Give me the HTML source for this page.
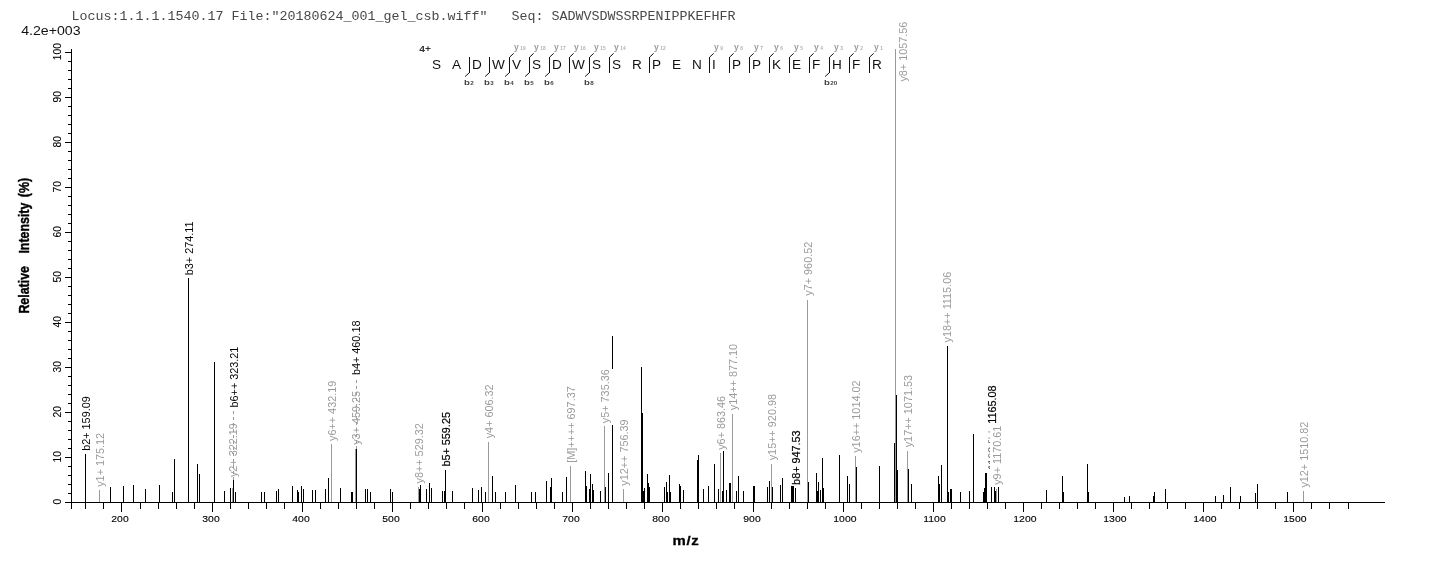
<!DOCTYPE html>
<html><head><meta charset="utf-8"><title>Spectrum</title>
<style>html,body{margin:0;padding:0;background:#fff;}svg{display:block;will-change:transform;}text{font-family:"Liberation Sans",sans-serif;}.mono{font-family:"Liberation Mono",monospace;}</style></head><body>
<svg width="1436" height="562" viewBox="0 0 1436 562">
<rect x="0" y="0" width="1436" height="562" fill="#fff"/>
<text class="mono" x="71.5" y="19.7" font-size="13.33" fill="#484848" xml:space="preserve" style="white-space:pre" textLength="664" lengthAdjust="spacing">Locus:1.1.1.1540.17 File:&quot;20180624_001_gel_csb.wiff&quot;   Seq: SADWVSDWSSRPENIPPKEFHFR</text>
<text transform="translate(21.2,34.8) scale(1.18,1)" font-size="12" fill="#111">4.2e+003</text>
<g shape-rendering="crispEdges">
<rect x="85" y="454" width="1" height="48" fill="#000"/>
<rect x="99" y="490" width="1" height="12" fill="#9a9a9a"/>
<rect x="110" y="487" width="1" height="15" fill="#000"/>
<rect x="123" y="486" width="1" height="16" fill="#000"/>
<rect x="133" y="485" width="1" height="17" fill="#000"/>
<rect x="145" y="489" width="1" height="13" fill="#000"/>
<rect x="159" y="485" width="1" height="17" fill="#000"/>
<rect x="172" y="492" width="1" height="10" fill="#000"/>
<rect x="174" y="459" width="1" height="43" fill="#000"/>
<rect x="188" y="278" width="1" height="224" fill="#000"/>
<rect x="197" y="464" width="1" height="38" fill="#000"/>
<rect x="199" y="474" width="1" height="28" fill="#000"/>
<rect x="214" y="362" width="1" height="140" fill="#000"/>
<rect x="224" y="491" width="1" height="11" fill="#000"/>
<rect x="230" y="488" width="1" height="14" fill="#000"/>
<rect x="232" y="488" width="1" height="14" fill="#9a9a9a"/>
<rect x="233" y="480" width="1" height="22" fill="#000"/>
<rect x="235" y="492" width="1" height="10" fill="#000"/>
<rect x="261" y="492" width="1" height="10" fill="#000"/>
<rect x="264" y="492" width="1" height="10" fill="#000"/>
<rect x="276" y="491" width="1" height="11" fill="#000"/>
<rect x="278" y="489" width="1" height="13" fill="#000"/>
<rect x="292" y="486" width="1" height="16" fill="#000"/>
<rect x="297" y="490" width="1" height="12" fill="#000"/>
<rect x="298" y="492" width="1" height="10" fill="#000"/>
<rect x="301" y="486" width="1" height="16" fill="#000"/>
<rect x="303" y="489" width="1" height="13" fill="#000"/>
<rect x="312" y="490" width="1" height="12" fill="#000"/>
<rect x="315" y="490" width="1" height="12" fill="#000"/>
<rect x="325" y="489" width="1" height="13" fill="#000"/>
<rect x="328" y="478" width="1" height="24" fill="#000"/>
<rect x="331" y="444" width="1" height="58" fill="#9a9a9a"/>
<rect x="340" y="488" width="1" height="14" fill="#000"/>
<rect x="351" y="492" width="1" height="10" fill="#000"/>
<rect x="352" y="492" width="1" height="10" fill="#000"/>
<rect x="355" y="449" width="1" height="53" fill="#9a9a9a"/>
<rect x="356" y="449" width="1" height="53" fill="#000"/>
<rect x="365" y="489" width="1" height="13" fill="#000"/>
<rect x="367" y="489" width="1" height="13" fill="#000"/>
<rect x="370" y="492" width="1" height="10" fill="#000"/>
<rect x="390" y="489" width="1" height="13" fill="#000"/>
<rect x="392" y="492" width="1" height="10" fill="#000"/>
<rect x="418" y="487" width="1" height="15" fill="#9a9a9a"/>
<rect x="419" y="489" width="1" height="13" fill="#000"/>
<rect x="420" y="485" width="1" height="17" fill="#000"/>
<rect x="426" y="489" width="1" height="13" fill="#000"/>
<rect x="429" y="483" width="1" height="19" fill="#000"/>
<rect x="431" y="488" width="1" height="14" fill="#000"/>
<rect x="442" y="491" width="1" height="11" fill="#000"/>
<rect x="444" y="491" width="1" height="11" fill="#000"/>
<rect x="445" y="470" width="1" height="32" fill="#000"/>
<rect x="452" y="491" width="1" height="11" fill="#000"/>
<rect x="472" y="488" width="1" height="14" fill="#000"/>
<rect x="478" y="490" width="1" height="12" fill="#000"/>
<rect x="481" y="487" width="1" height="15" fill="#000"/>
<rect x="485" y="492" width="1" height="10" fill="#000"/>
<rect x="488" y="442" width="1" height="60" fill="#9a9a9a"/>
<rect x="492" y="476" width="1" height="26" fill="#000"/>
<rect x="495" y="492" width="1" height="10" fill="#000"/>
<rect x="505" y="492" width="1" height="10" fill="#000"/>
<rect x="515" y="485" width="1" height="17" fill="#000"/>
<rect x="531" y="492" width="1" height="10" fill="#000"/>
<rect x="535" y="492" width="1" height="10" fill="#000"/>
<rect x="546" y="481" width="1" height="21" fill="#000"/>
<rect x="550" y="487" width="1" height="15" fill="#000"/>
<rect x="551" y="478" width="1" height="24" fill="#000"/>
<rect x="562" y="492" width="1" height="10" fill="#000"/>
<rect x="566" y="477" width="1" height="25" fill="#000"/>
<rect x="570" y="466" width="1" height="36" fill="#9a9a9a"/>
<rect x="585" y="471" width="1" height="31" fill="#000"/>
<rect x="586" y="486" width="1" height="16" fill="#000"/>
<rect x="589" y="489" width="1" height="13" fill="#000"/>
<rect x="590" y="474" width="1" height="28" fill="#000"/>
<rect x="592" y="484" width="1" height="18" fill="#000"/>
<rect x="593" y="490" width="1" height="12" fill="#000"/>
<rect x="600" y="491" width="1" height="11" fill="#000"/>
<rect x="604" y="426" width="1" height="76" fill="#9a9a9a"/>
<rect x="605" y="487" width="1" height="15" fill="#000"/>
<rect x="608" y="473" width="1" height="29" fill="#000"/>
<rect x="623" y="489" width="1" height="13" fill="#9a9a9a"/>
<rect x="641" y="367" width="1" height="135" fill="#000"/>
<rect x="642" y="413" width="1" height="89" fill="#000"/>
<rect x="643" y="491" width="1" height="11" fill="#000"/>
<rect x="644" y="488" width="1" height="14" fill="#000"/>
<rect x="647" y="474" width="1" height="28" fill="#000"/>
<rect x="648" y="483" width="1" height="19" fill="#000"/>
<rect x="649" y="487" width="1" height="15" fill="#000"/>
<rect x="664" y="487" width="1" height="15" fill="#000"/>
<rect x="666" y="482" width="1" height="20" fill="#000"/>
<rect x="667" y="492" width="1" height="10" fill="#000"/>
<rect x="669" y="475" width="1" height="27" fill="#000"/>
<rect x="670" y="492" width="1" height="10" fill="#000"/>
<rect x="679" y="484" width="1" height="18" fill="#000"/>
<rect x="680" y="486" width="1" height="16" fill="#000"/>
<rect x="683" y="490" width="1" height="12" fill="#000"/>
<rect x="697" y="460" width="1" height="42" fill="#000"/>
<rect x="698" y="455" width="1" height="47" fill="#000"/>
<rect x="703" y="489" width="1" height="13" fill="#000"/>
<rect x="708" y="486" width="1" height="16" fill="#000"/>
<rect x="714" y="464" width="1" height="38" fill="#000"/>
<rect x="718" y="489" width="1" height="13" fill="#000"/>
<rect x="720" y="453" width="1" height="49" fill="#9a9a9a"/>
<rect x="722" y="491" width="1" height="11" fill="#000"/>
<rect x="723" y="451" width="1" height="51" fill="#000"/>
<rect x="726" y="490" width="1" height="12" fill="#000"/>
<rect x="729" y="483" width="1" height="19" fill="#000"/>
<rect x="730" y="483" width="1" height="19" fill="#000"/>
<rect x="732" y="414" width="1" height="88" fill="#9a9a9a"/>
<rect x="736" y="491" width="1" height="11" fill="#000"/>
<rect x="738" y="476" width="1" height="26" fill="#000"/>
<rect x="743" y="491" width="1" height="11" fill="#000"/>
<rect x="753" y="486" width="1" height="16" fill="#000"/>
<rect x="754" y="486" width="1" height="16" fill="#000"/>
<rect x="767" y="487" width="1" height="15" fill="#000"/>
<rect x="769" y="481" width="1" height="21" fill="#000"/>
<rect x="771" y="464" width="1" height="38" fill="#9a9a9a"/>
<rect x="772" y="487" width="1" height="15" fill="#000"/>
<rect x="780" y="485" width="1" height="17" fill="#000"/>
<rect x="782" y="478" width="1" height="24" fill="#000"/>
<rect x="791" y="486" width="1" height="16" fill="#000"/>
<rect x="792" y="486" width="1" height="16" fill="#000"/>
<rect x="793" y="486" width="1" height="16" fill="#000"/>
<rect x="795" y="488" width="1" height="14" fill="#000"/>
<rect x="807" y="300" width="1" height="202" fill="#9a9a9a"/>
<rect x="808" y="482" width="1" height="20" fill="#000"/>
<rect x="816" y="473" width="1" height="29" fill="#000"/>
<rect x="817" y="491" width="1" height="11" fill="#000"/>
<rect x="818" y="482" width="1" height="20" fill="#000"/>
<rect x="820" y="490" width="1" height="12" fill="#000"/>
<rect x="822" y="458" width="1" height="44" fill="#000"/>
<rect x="823" y="488" width="1" height="14" fill="#000"/>
<rect x="839" y="455" width="1" height="47" fill="#000"/>
<rect x="847" y="476" width="1" height="26" fill="#000"/>
<rect x="849" y="484" width="1" height="18" fill="#000"/>
<rect x="855" y="456" width="1" height="46" fill="#9a9a9a"/>
<rect x="856" y="467" width="1" height="35" fill="#000"/>
<rect x="879" y="466" width="1" height="36" fill="#000"/>
<rect x="894" y="443" width="1" height="59" fill="#000"/>
<rect x="895" y="49" width="1" height="453" fill="#9a9a9a"/>
<rect x="896" y="395" width="1" height="107" fill="#000"/>
<rect x="897" y="470" width="1" height="32" fill="#000"/>
<rect x="907" y="451" width="1" height="51" fill="#9a9a9a"/>
<rect x="908" y="469" width="1" height="33" fill="#000"/>
<rect x="911" y="484" width="1" height="18" fill="#000"/>
<rect x="938" y="476" width="1" height="26" fill="#000"/>
<rect x="939" y="484" width="1" height="18" fill="#000"/>
<rect x="941" y="465" width="1" height="37" fill="#000"/>
<rect x="947" y="346" width="1" height="156" fill="#000"/>
<rect x="948" y="492" width="1" height="10" fill="#000"/>
<rect x="950" y="489" width="1" height="13" fill="#000"/>
<rect x="951" y="489" width="1" height="13" fill="#000"/>
<rect x="960" y="492" width="1" height="10" fill="#000"/>
<rect x="969" y="491" width="1" height="11" fill="#000"/>
<rect x="973" y="434" width="1" height="68" fill="#000"/>
<rect x="983" y="492" width="1" height="10" fill="#000"/>
<rect x="984" y="488" width="1" height="14" fill="#000"/>
<rect x="985" y="473" width="1" height="29" fill="#000"/>
<rect x="986" y="473" width="1" height="29" fill="#000"/>
<rect x="991" y="487" width="1" height="15" fill="#000"/>
<rect x="994" y="487" width="1" height="15" fill="#000"/>
<rect x="995" y="491" width="1" height="11" fill="#000"/>
<rect x="996" y="489" width="1" height="13" fill="#9a9a9a"/>
<rect x="998" y="487" width="1" height="15" fill="#000"/>
<rect x="1046" y="490" width="1" height="12" fill="#000"/>
<rect x="1062" y="476" width="1" height="26" fill="#000"/>
<rect x="1063" y="492" width="1" height="10" fill="#000"/>
<rect x="1087" y="464" width="1" height="38" fill="#000"/>
<rect x="1088" y="492" width="1" height="10" fill="#000"/>
<rect x="1124" y="497" width="1" height="5" fill="#000"/>
<rect x="1129" y="496" width="1" height="6" fill="#000"/>
<rect x="1153" y="496" width="1" height="6" fill="#000"/>
<rect x="1154" y="492" width="1" height="10" fill="#000"/>
<rect x="1165" y="489" width="1" height="13" fill="#000"/>
<rect x="1215" y="496" width="1" height="6" fill="#000"/>
<rect x="1223" y="495" width="1" height="7" fill="#000"/>
<rect x="1230" y="487" width="1" height="15" fill="#000"/>
<rect x="1240" y="496" width="1" height="6" fill="#000"/>
<rect x="1255" y="493" width="1" height="9" fill="#000"/>
<rect x="1257" y="484" width="1" height="18" fill="#000"/>
<rect x="1287" y="492" width="1" height="10" fill="#000"/>
<rect x="1303" y="491" width="1" height="11" fill="#9a9a9a"/>
<rect x="612" y="336" width="1" height="33" fill="#000"/>
<rect x="612" y="425" width="1" height="77" fill="#000"/>
<rect x="71" y="49" width="1" height="460" fill="#000"/>
<rect x="65" y="502" width="1320" height="1" fill="#000"/>
<rect x="65" y="502" width="6" height="1" fill="#000"/>
<rect x="68" y="493" width="3" height="1" fill="#000"/>
<rect x="68" y="484" width="3" height="1" fill="#000"/>
<rect x="68" y="475" width="3" height="1" fill="#000"/>
<rect x="68" y="466" width="3" height="1" fill="#000"/>
<rect x="65" y="457" width="6" height="1" fill="#000"/>
<rect x="68" y="448" width="3" height="1" fill="#000"/>
<rect x="68" y="439" width="3" height="1" fill="#000"/>
<rect x="68" y="430" width="3" height="1" fill="#000"/>
<rect x="68" y="421" width="3" height="1" fill="#000"/>
<rect x="65" y="412" width="6" height="1" fill="#000"/>
<rect x="68" y="403" width="3" height="1" fill="#000"/>
<rect x="68" y="394" width="3" height="1" fill="#000"/>
<rect x="68" y="385" width="3" height="1" fill="#000"/>
<rect x="68" y="376" width="3" height="1" fill="#000"/>
<rect x="65" y="367" width="6" height="1" fill="#000"/>
<rect x="68" y="358" width="3" height="1" fill="#000"/>
<rect x="68" y="349" width="3" height="1" fill="#000"/>
<rect x="68" y="340" width="3" height="1" fill="#000"/>
<rect x="68" y="331" width="3" height="1" fill="#000"/>
<rect x="65" y="322" width="6" height="1" fill="#000"/>
<rect x="68" y="313" width="3" height="1" fill="#000"/>
<rect x="68" y="304" width="3" height="1" fill="#000"/>
<rect x="68" y="295" width="3" height="1" fill="#000"/>
<rect x="68" y="286" width="3" height="1" fill="#000"/>
<rect x="65" y="277" width="6" height="1" fill="#000"/>
<rect x="68" y="268" width="3" height="1" fill="#000"/>
<rect x="68" y="259" width="3" height="1" fill="#000"/>
<rect x="68" y="250" width="3" height="1" fill="#000"/>
<rect x="68" y="241" width="3" height="1" fill="#000"/>
<rect x="65" y="232" width="6" height="1" fill="#000"/>
<rect x="68" y="223" width="3" height="1" fill="#000"/>
<rect x="68" y="214" width="3" height="1" fill="#000"/>
<rect x="68" y="205" width="3" height="1" fill="#000"/>
<rect x="68" y="196" width="3" height="1" fill="#000"/>
<rect x="65" y="187" width="6" height="1" fill="#000"/>
<rect x="68" y="178" width="3" height="1" fill="#000"/>
<rect x="68" y="169" width="3" height="1" fill="#000"/>
<rect x="68" y="160" width="3" height="1" fill="#000"/>
<rect x="68" y="151" width="3" height="1" fill="#000"/>
<rect x="65" y="142" width="6" height="1" fill="#000"/>
<rect x="68" y="133" width="3" height="1" fill="#000"/>
<rect x="68" y="124" width="3" height="1" fill="#000"/>
<rect x="68" y="115" width="3" height="1" fill="#000"/>
<rect x="68" y="106" width="3" height="1" fill="#000"/>
<rect x="65" y="97" width="6" height="1" fill="#000"/>
<rect x="68" y="88" width="3" height="1" fill="#000"/>
<rect x="68" y="79" width="3" height="1" fill="#000"/>
<rect x="68" y="70" width="3" height="1" fill="#000"/>
<rect x="68" y="61" width="3" height="1" fill="#000"/>
<rect x="65" y="52" width="6" height="1" fill="#000"/>
<rect x="85" y="502" width="1" height="7" fill="#000"/>
<rect x="103" y="502" width="1" height="7" fill="#000"/>
<rect x="121" y="502" width="1" height="10" fill="#000"/>
<rect x="140" y="502" width="1" height="7" fill="#000"/>
<rect x="158" y="502" width="1" height="7" fill="#000"/>
<rect x="176" y="502" width="1" height="7" fill="#000"/>
<rect x="194" y="502" width="1" height="7" fill="#000"/>
<rect x="212" y="502" width="1" height="10" fill="#000"/>
<rect x="230" y="502" width="1" height="7" fill="#000"/>
<rect x="248" y="502" width="1" height="7" fill="#000"/>
<rect x="266" y="502" width="1" height="7" fill="#000"/>
<rect x="284" y="502" width="1" height="7" fill="#000"/>
<rect x="302" y="502" width="1" height="10" fill="#000"/>
<rect x="320" y="502" width="1" height="7" fill="#000"/>
<rect x="338" y="502" width="1" height="7" fill="#000"/>
<rect x="356" y="502" width="1" height="7" fill="#000"/>
<rect x="374" y="502" width="1" height="7" fill="#000"/>
<rect x="392" y="502" width="1" height="10" fill="#000"/>
<rect x="410" y="502" width="1" height="7" fill="#000"/>
<rect x="428" y="502" width="1" height="7" fill="#000"/>
<rect x="446" y="502" width="1" height="7" fill="#000"/>
<rect x="464" y="502" width="1" height="7" fill="#000"/>
<rect x="482" y="502" width="1" height="10" fill="#000"/>
<rect x="500" y="502" width="1" height="7" fill="#000"/>
<rect x="518" y="502" width="1" height="7" fill="#000"/>
<rect x="536" y="502" width="1" height="7" fill="#000"/>
<rect x="554" y="502" width="1" height="7" fill="#000"/>
<rect x="572" y="502" width="1" height="10" fill="#000"/>
<rect x="590" y="502" width="1" height="7" fill="#000"/>
<rect x="608" y="502" width="1" height="7" fill="#000"/>
<rect x="626" y="502" width="1" height="7" fill="#000"/>
<rect x="644" y="502" width="1" height="7" fill="#000"/>
<rect x="662" y="502" width="1" height="10" fill="#000"/>
<rect x="680" y="502" width="1" height="7" fill="#000"/>
<rect x="698" y="502" width="1" height="7" fill="#000"/>
<rect x="716" y="502" width="1" height="7" fill="#000"/>
<rect x="734" y="502" width="1" height="7" fill="#000"/>
<rect x="753" y="502" width="1" height="10" fill="#000"/>
<rect x="771" y="502" width="1" height="7" fill="#000"/>
<rect x="789" y="502" width="1" height="7" fill="#000"/>
<rect x="807" y="502" width="1" height="7" fill="#000"/>
<rect x="825" y="502" width="1" height="7" fill="#000"/>
<rect x="843" y="502" width="1" height="10" fill="#000"/>
<rect x="861" y="502" width="1" height="7" fill="#000"/>
<rect x="879" y="502" width="1" height="7" fill="#000"/>
<rect x="897" y="502" width="1" height="7" fill="#000"/>
<rect x="915" y="502" width="1" height="7" fill="#000"/>
<rect x="933" y="502" width="1" height="10" fill="#000"/>
<rect x="951" y="502" width="1" height="7" fill="#000"/>
<rect x="969" y="502" width="1" height="7" fill="#000"/>
<rect x="987" y="502" width="1" height="7" fill="#000"/>
<rect x="1005" y="502" width="1" height="7" fill="#000"/>
<rect x="1023" y="502" width="1" height="10" fill="#000"/>
<rect x="1041" y="502" width="1" height="7" fill="#000"/>
<rect x="1059" y="502" width="1" height="7" fill="#000"/>
<rect x="1077" y="502" width="1" height="7" fill="#000"/>
<rect x="1095" y="502" width="1" height="7" fill="#000"/>
<rect x="1113" y="502" width="1" height="10" fill="#000"/>
<rect x="1131" y="502" width="1" height="7" fill="#000"/>
<rect x="1149" y="502" width="1" height="7" fill="#000"/>
<rect x="1167" y="502" width="1" height="7" fill="#000"/>
<rect x="1185" y="502" width="1" height="7" fill="#000"/>
<rect x="1203" y="502" width="1" height="10" fill="#000"/>
<rect x="1221" y="502" width="1" height="7" fill="#000"/>
<rect x="1239" y="502" width="1" height="7" fill="#000"/>
<rect x="1257" y="502" width="1" height="7" fill="#000"/>
<rect x="1275" y="502" width="1" height="7" fill="#000"/>
<rect x="1293" y="502" width="1" height="10" fill="#000"/>
<rect x="1311" y="502" width="1" height="7" fill="#000"/>
<rect x="1329" y="502" width="1" height="7" fill="#000"/>
<rect x="1348" y="502" width="1" height="7" fill="#000"/>
</g>
<text transform="translate(111.3,521.8) scale(1.07,1)" font-size="9.75" fill="#000" stroke="#000" stroke-width="0.12">200</text>
<text transform="translate(202.3,521.8) scale(1.07,1)" font-size="9.75" fill="#000" stroke="#000" stroke-width="0.12">300</text>
<text transform="translate(292.3,521.8) scale(1.07,1)" font-size="9.75" fill="#000" stroke="#000" stroke-width="0.12">400</text>
<text transform="translate(382.3,521.8) scale(1.07,1)" font-size="9.75" fill="#000" stroke="#000" stroke-width="0.12">500</text>
<text transform="translate(472.3,521.8) scale(1.07,1)" font-size="9.75" fill="#000" stroke="#000" stroke-width="0.12">600</text>
<text transform="translate(562.3,521.8) scale(1.07,1)" font-size="9.75" fill="#000" stroke="#000" stroke-width="0.12">700</text>
<text transform="translate(652.3,521.8) scale(1.07,1)" font-size="9.75" fill="#000" stroke="#000" stroke-width="0.12">800</text>
<text transform="translate(743.3,521.8) scale(1.07,1)" font-size="9.75" fill="#000" stroke="#000" stroke-width="0.12">900</text>
<text transform="translate(833.3,521.8) scale(1.07,1)" font-size="9.75" fill="#000" stroke="#000" stroke-width="0.12">1000</text>
<text transform="translate(923.3,521.8) scale(1.07,1)" font-size="9.75" fill="#000" stroke="#000" stroke-width="0.12">1100</text>
<text transform="translate(1013.3,521.8) scale(1.07,1)" font-size="9.75" fill="#000" stroke="#000" stroke-width="0.12">1200</text>
<text transform="translate(1103.3,521.8) scale(1.07,1)" font-size="9.75" fill="#000" stroke="#000" stroke-width="0.12">1300</text>
<text transform="translate(1193.3,521.8) scale(1.07,1)" font-size="9.75" fill="#000" stroke="#000" stroke-width="0.12">1400</text>
<text transform="translate(1283.3,521.8) scale(1.07,1)" font-size="9.75" fill="#000" stroke="#000" stroke-width="0.12">1500</text>
<text transform="translate(61.2,501.7) scale(1.05,1) rotate(-90)" font-size="10.3" text-anchor="middle" fill="#000" stroke="#000" stroke-width="0.1">0</text>
<text transform="translate(61.2,456.7) scale(1.05,1) rotate(-90)" font-size="10.3" text-anchor="middle" fill="#000" stroke="#000" stroke-width="0.1">10</text>
<text transform="translate(61.2,411.7) scale(1.05,1) rotate(-90)" font-size="10.3" text-anchor="middle" fill="#000" stroke="#000" stroke-width="0.1">20</text>
<text transform="translate(61.2,366.7) scale(1.05,1) rotate(-90)" font-size="10.3" text-anchor="middle" fill="#000" stroke="#000" stroke-width="0.1">30</text>
<text transform="translate(61.2,321.7) scale(1.05,1) rotate(-90)" font-size="10.3" text-anchor="middle" fill="#000" stroke="#000" stroke-width="0.1">40</text>
<text transform="translate(61.2,276.7) scale(1.05,1) rotate(-90)" font-size="10.3" text-anchor="middle" fill="#000" stroke="#000" stroke-width="0.1">50</text>
<text transform="translate(61.2,231.7) scale(1.05,1) rotate(-90)" font-size="10.3" text-anchor="middle" fill="#000" stroke="#000" stroke-width="0.1">60</text>
<text transform="translate(61.2,186.7) scale(1.05,1) rotate(-90)" font-size="10.3" text-anchor="middle" fill="#000" stroke="#000" stroke-width="0.1">70</text>
<text transform="translate(61.2,141.7) scale(1.05,1) rotate(-90)" font-size="10.3" text-anchor="middle" fill="#000" stroke="#000" stroke-width="0.1">80</text>
<text transform="translate(61.2,96.7) scale(1.05,1) rotate(-90)" font-size="10.3" text-anchor="middle" fill="#000" stroke="#000" stroke-width="0.1">90</text>
<text transform="translate(61.2,51.7) scale(1.05,1) rotate(-90)" font-size="10.3" text-anchor="middle" fill="#000" stroke="#000" stroke-width="0.1">100</text>
<text transform="translate(29.2,313.6) scale(1.15,1) rotate(-90)" font-size="12.4" font-weight="bold" fill="#000" stroke="#000" stroke-width="0.35">Relative</text>
<text transform="translate(29.2,253.6) scale(1.15,1) rotate(-90)" font-size="12.4" font-weight="bold" fill="#000" stroke="#000" stroke-width="0.35">Intensity</text>
<text transform="translate(29.2,197.2) scale(1.15,1) rotate(-90)" font-size="12.4" font-weight="bold" fill="#000" stroke="#000" stroke-width="0.35">(%)</text>
<text transform="translate(672.5,544.7) scale(1.12,1)" font-size="13.33" font-weight="bold" fill="#000" stroke="#000" stroke-width="0.3" letter-spacing="0.6">m/z</text>
<text transform="translate(89.7,450.8) scale(1.03,1) rotate(-90)" font-size="10.85" fill="#000">b2+ 159.09</text>
<text transform="translate(103.8,486.8) scale(1.03,1) rotate(-90)" font-size="10.85" fill="#9a9a9a">y1+ 175.12</text>
<text transform="translate(192.6,275.2) scale(1.03,1) rotate(-90)" font-size="10.85" fill="#000">b3+ 274.11</text>
<text transform="translate(236.5,477.1) scale(1.03,1) rotate(-90)" font-size="10.85" fill="#9a9a9a">y2+ 322.19</text>
<text transform="translate(237.7,407.5) scale(1.03,1) rotate(-90)" font-size="10.85" fill="#000">b6++ 323.21</text>
<text transform="translate(336.0,441.0) scale(1.03,1) rotate(-90)" font-size="10.85" fill="#9a9a9a">y6++ 432.19</text>
<text transform="translate(359.8,444.8) scale(1.03,1) rotate(-90)" font-size="10.85" fill="#9a9a9a">y3+ 459.25</text>
<text transform="translate(360.3,375.1) scale(1.03,1) rotate(-90)" font-size="10.85" fill="#000">b4+ 460.18</text>
<text transform="translate(422.9,483.5) scale(1.03,1) rotate(-90)" font-size="10.85" fill="#9a9a9a">y8++ 529.32</text>
<text transform="translate(449.7,466.6) scale(1.03,1) rotate(-90)" font-size="10.85" fill="#000" stroke="#000" stroke-width="0.2">b5+ 559.25</text>
<text transform="translate(492.7,438.3) scale(1.03,1) rotate(-90)" font-size="10.85" fill="#9a9a9a">y4+ 606.32</text>
<text transform="translate(574.7,462.8) scale(1.03,1) rotate(-90)" font-size="10.85" fill="#9a9a9a">[M]++++ 697.37</text>
<text transform="translate(608.8,423.2) scale(1.03,1) rotate(-90)" font-size="10.85" fill="#9a9a9a">y5+ 735.36</text>
<text transform="translate(627.7,485.7) scale(1.03,1) rotate(-90)" font-size="10.85" fill="#9a9a9a">y12++ 756.39</text>
<text transform="translate(724.7,449.8) scale(1.03,1) rotate(-90)" font-size="10.85" fill="#9a9a9a">y6+ 863.46</text>
<text transform="translate(736.8,410.2) scale(1.03,1) rotate(-90)" font-size="10.85" fill="#9a9a9a">y14++ 877.10</text>
<text transform="translate(775.7,460.3) scale(1.03,1) rotate(-90)" font-size="10.85" fill="#9a9a9a">y15++ 920.98</text>
<text transform="translate(799.7,484.9) scale(1.03,1) rotate(-90)" font-size="10.85" fill="#000" stroke="#000" stroke-width="0.2">b8+ 947.53</text>
<text transform="translate(811.7,295.7) scale(1.03,1) rotate(-90)" font-size="10.85" fill="#9a9a9a">y7+ 960.52</text>
<text transform="translate(859.7,452.8) scale(1.03,1) rotate(-90)" font-size="10.85" fill="#9a9a9a">y16++ 1014.02</text>
<text transform="translate(906.8,81.6) scale(1.03,1) rotate(-90)" font-size="10.85" fill="#9a9a9a">y8+ 1057.56</text>
<text transform="translate(911.7,447.3) scale(1.03,1) rotate(-90)" font-size="10.85" fill="#9a9a9a">y17++ 1071.53</text>
<text transform="translate(951.2,342.5) scale(1.03,1) rotate(-90)" font-size="10.85" fill="#9a9a9a">y18++ 1115.06</text>
<text transform="translate(996.2,423.8) scale(1.03,1) rotate(-90)" font-size="10.85" fill="#000" stroke="#000" stroke-width="0.2">1165.08</text>
<text transform="translate(1000.5,484.8) scale(1.03,1) rotate(-90)" font-size="10.85" fill="#9a9a9a">y9+ 1170.61</text>
<text transform="translate(1307.7,487.6) scale(1.03,1) rotate(-90)" font-size="10.85" fill="#9a9a9a">y12+ 1510.82</text>
<g shape-rendering="crispEdges">
<rect x="233" y="411" width="1" height="3" fill="#9a9a9a"/>
<rect x="233" y="417" width="1" height="3" fill="#9a9a9a"/>
<rect x="233" y="423" width="1" height="3" fill="#9a9a9a"/>
<rect x="233" y="429" width="1" height="3" fill="#9a9a9a"/>
<rect x="233" y="435" width="1" height="3" fill="#9a9a9a"/>
<rect x="233" y="441" width="1" height="3" fill="#9a9a9a"/>
<rect x="233" y="447" width="1" height="3" fill="#9a9a9a"/>
<rect x="233" y="453" width="1" height="3" fill="#9a9a9a"/>
<rect x="233" y="459" width="1" height="3" fill="#9a9a9a"/>
<rect x="233" y="465" width="1" height="3" fill="#9a9a9a"/>
<rect x="233" y="471" width="1" height="3" fill="#9a9a9a"/>
<rect x="233" y="477" width="1" height="3" fill="#9a9a9a"/>
<rect x="356" y="380" width="1" height="3" fill="#9a9a9a"/>
<rect x="356" y="386" width="1" height="3" fill="#9a9a9a"/>
<rect x="356" y="392" width="1" height="3" fill="#9a9a9a"/>
<rect x="356" y="398" width="1" height="3" fill="#9a9a9a"/>
<rect x="356" y="404" width="1" height="3" fill="#9a9a9a"/>
<rect x="356" y="410" width="1" height="3" fill="#9a9a9a"/>
<rect x="356" y="416" width="1" height="3" fill="#9a9a9a"/>
<rect x="356" y="422" width="1" height="3" fill="#9a9a9a"/>
<rect x="356" y="428" width="1" height="3" fill="#9a9a9a"/>
<rect x="356" y="434" width="1" height="3" fill="#9a9a9a"/>
<rect x="356" y="440" width="1" height="3" fill="#9a9a9a"/>
<rect x="356" y="446" width="1" height="3" fill="#9a9a9a"/>
</g>
<clipPath id="sl"><rect x="988.4" y="440" width="1.5" height="30"/></clipPath>
<g clip-path="url(#sl)"><text transform="translate(996.2,470) scale(1.03,1) rotate(-90)" font-size="10.85" fill="#333">1163.58</text></g>
<rect x="988.6" y="437.5" width="1" height="1.2" fill="#666"/><rect x="988.6" y="431.3" width="1" height="1.2" fill="#666"/>
<text transform="translate(431.90,68.5) scale(1.02,1)" font-size="13.33" fill="#111">S</text>
<text transform="translate(451.90,68.5) scale(1.02,1)" font-size="13.33" fill="#111">A</text>
<text transform="translate(471.90,68.5) scale(1.02,1)" font-size="13.33" fill="#111">D</text>
<text transform="translate(491.90,68.5) scale(1.02,1)" font-size="13.33" fill="#111">W</text>
<text transform="translate(511.90,68.5) scale(1.02,1)" font-size="13.33" fill="#111">V</text>
<text transform="translate(531.90,68.5) scale(1.02,1)" font-size="13.33" fill="#111">S</text>
<text transform="translate(551.90,68.5) scale(1.02,1)" font-size="13.33" fill="#111">D</text>
<text transform="translate(571.90,68.5) scale(1.02,1)" font-size="13.33" fill="#111">W</text>
<text transform="translate(591.90,68.5) scale(1.02,1)" font-size="13.33" fill="#111">S</text>
<text transform="translate(611.90,68.5) scale(1.02,1)" font-size="13.33" fill="#111">S</text>
<text transform="translate(631.90,68.5) scale(1.02,1)" font-size="13.33" fill="#111">R</text>
<text transform="translate(651.90,68.5) scale(1.02,1)" font-size="13.33" fill="#111">P</text>
<text transform="translate(671.90,68.5) scale(1.02,1)" font-size="13.33" fill="#111">E</text>
<text transform="translate(691.90,68.5) scale(1.02,1)" font-size="13.33" fill="#111">N</text>
<text transform="translate(711.90,68.5) scale(1.02,1)" font-size="13.33" fill="#111">I</text>
<text transform="translate(731.90,68.5) scale(1.02,1)" font-size="13.33" fill="#111">P</text>
<text transform="translate(751.90,68.5) scale(1.02,1)" font-size="13.33" fill="#111">P</text>
<text transform="translate(771.90,68.5) scale(1.02,1)" font-size="13.33" fill="#111">K</text>
<text transform="translate(791.90,68.5) scale(1.02,1)" font-size="13.33" fill="#111">E</text>
<text transform="translate(811.90,68.5) scale(1.02,1)" font-size="13.33" fill="#111">F</text>
<text transform="translate(831.90,68.5) scale(1.02,1)" font-size="13.33" fill="#111">H</text>
<text transform="translate(851.90,68.5) scale(1.02,1)" font-size="13.33" fill="#111">F</text>
<text transform="translate(871.90,68.5) scale(1.02,1)" font-size="13.33" fill="#111">R</text>
<text transform="translate(419.3,51.5) scale(1.1,1)" font-size="9.3" font-weight="bold" fill="#333">4+</text>
<g shape-rendering="crispEdges">
<rect x="469" y="57" width="1" height="16" fill="#111"/>
<rect x="489" y="57" width="1" height="16" fill="#111"/>
<rect x="509" y="57" width="1" height="16" fill="#111"/>
<rect x="529" y="57" width="1" height="16" fill="#111"/>
<rect x="549" y="57" width="1" height="16" fill="#111"/>
<rect x="569" y="57" width="1" height="16" fill="#111"/>
<rect x="589" y="57" width="1" height="16" fill="#111"/>
<rect x="609" y="57" width="1" height="16" fill="#111"/>
<rect x="649" y="57" width="1" height="16" fill="#111"/>
<rect x="709" y="57" width="1" height="16" fill="#111"/>
<rect x="729" y="57" width="1" height="16" fill="#111"/>
<rect x="749" y="57" width="1" height="16" fill="#111"/>
<rect x="769" y="57" width="1" height="16" fill="#111"/>
<rect x="789" y="57" width="1" height="16" fill="#111"/>
<rect x="809" y="57" width="1" height="16" fill="#111"/>
<rect x="829" y="57" width="1" height="16" fill="#111"/>
<rect x="849" y="57" width="1" height="16" fill="#111"/>
<rect x="869" y="57" width="1" height="16" fill="#111"/>
</g>
<g stroke="#111" stroke-width="1" fill="none" >
<line x1="469.2" y1="72.8" x2="465.1" y2="76.6"/>
<line x1="489.2" y1="72.8" x2="485.1" y2="76.6"/>
<line x1="509.2" y1="72.8" x2="505.1" y2="76.6"/>
<line x1="509.8" y1="57.0" x2="513.7" y2="53.3"/>
<line x1="529.2" y1="72.8" x2="525.1" y2="76.6"/>
<line x1="529.8" y1="57.0" x2="533.7" y2="53.3"/>
<line x1="549.2" y1="72.8" x2="545.1" y2="76.6"/>
<line x1="549.8" y1="57.0" x2="553.7" y2="53.3"/>
<line x1="569.8" y1="57.0" x2="573.7" y2="53.3"/>
<line x1="589.2" y1="72.8" x2="585.1" y2="76.6"/>
<line x1="589.8" y1="57.0" x2="593.7" y2="53.3"/>
<line x1="609.8" y1="57.0" x2="613.7" y2="53.3"/>
<line x1="649.8" y1="57.0" x2="653.7" y2="53.3"/>
<line x1="709.8" y1="57.0" x2="713.7" y2="53.3"/>
<line x1="729.8" y1="57.0" x2="733.7" y2="53.3"/>
<line x1="749.8" y1="57.0" x2="753.7" y2="53.3"/>
<line x1="769.8" y1="57.0" x2="773.7" y2="53.3"/>
<line x1="789.8" y1="57.0" x2="793.7" y2="53.3"/>
<line x1="809.8" y1="57.0" x2="813.7" y2="53.3"/>
<line x1="829.2" y1="72.8" x2="825.1" y2="76.6"/>
<line x1="829.8" y1="57.0" x2="833.7" y2="53.3"/>
<line x1="849.8" y1="57.0" x2="853.7" y2="53.3"/>
<line x1="869.8" y1="57.0" x2="873.7" y2="53.3"/>
</g>
<text transform="translate(464.1,84.6) scale(1.22,1)" font-size="7.9" font-weight="bold" fill="#444">b<tspan font-size="5.1" dx="0.3">2</tspan></text>
<text transform="translate(484.1,84.6) scale(1.22,1)" font-size="7.9" font-weight="bold" fill="#444">b<tspan font-size="5.1" dx="0.3">3</tspan></text>
<text transform="translate(504.1,84.6) scale(1.22,1)" font-size="7.9" font-weight="bold" fill="#444">b<tspan font-size="5.1" dx="0.3">4</tspan></text>
<text transform="translate(524.1,84.6) scale(1.22,1)" font-size="7.9" font-weight="bold" fill="#444">b<tspan font-size="5.1" dx="0.3">5</tspan></text>
<text transform="translate(544.1,84.6) scale(1.22,1)" font-size="7.9" font-weight="bold" fill="#444">b<tspan font-size="5.1" dx="0.3">6</tspan></text>
<text transform="translate(584.1,84.6) scale(1.22,1)" font-size="7.9" font-weight="bold" fill="#444">b<tspan font-size="5.1" dx="0.3">8</tspan></text>
<text transform="translate(824.1,84.6) scale(1.22,1)" font-size="7.9" font-weight="bold" fill="#444">b<tspan font-size="5.1" dx="0.3">20</tspan></text>
<text x="513.9" y="49.9" font-size="8.5" font-weight="bold" fill="#9c9c9c">y<tspan font-size="4.8" dx="1.6" dy="-0.3" fill="#b0b0b0">19</tspan></text>
<text x="533.9" y="49.9" font-size="8.5" font-weight="bold" fill="#9c9c9c">y<tspan font-size="4.8" dx="1.6" dy="-0.3" fill="#b0b0b0">18</tspan></text>
<text x="553.9" y="49.9" font-size="8.5" font-weight="bold" fill="#9c9c9c">y<tspan font-size="4.8" dx="1.6" dy="-0.3" fill="#b0b0b0">17</tspan></text>
<text x="573.9" y="49.9" font-size="8.5" font-weight="bold" fill="#9c9c9c">y<tspan font-size="4.8" dx="1.6" dy="-0.3" fill="#b0b0b0">16</tspan></text>
<text x="593.9" y="49.9" font-size="8.5" font-weight="bold" fill="#9c9c9c">y<tspan font-size="4.8" dx="1.6" dy="-0.3" fill="#b0b0b0">15</tspan></text>
<text x="613.9" y="49.9" font-size="8.5" font-weight="bold" fill="#9c9c9c">y<tspan font-size="4.8" dx="1.6" dy="-0.3" fill="#b0b0b0">14</tspan></text>
<text x="653.9" y="49.9" font-size="8.5" font-weight="bold" fill="#9c9c9c">y<tspan font-size="4.8" dx="1.6" dy="-0.3" fill="#b0b0b0">12</tspan></text>
<text x="713.9" y="49.9" font-size="8.5" font-weight="bold" fill="#9c9c9c">y<tspan font-size="4.8" dx="1.6" dy="-0.3" fill="#b0b0b0">9</tspan></text>
<text x="733.9" y="49.9" font-size="8.5" font-weight="bold" fill="#9c9c9c">y<tspan font-size="4.8" dx="1.6" dy="-0.3" fill="#b0b0b0">8</tspan></text>
<text x="753.9" y="49.9" font-size="8.5" font-weight="bold" fill="#9c9c9c">y<tspan font-size="4.8" dx="1.6" dy="-0.3" fill="#b0b0b0">7</tspan></text>
<text x="773.9" y="49.9" font-size="8.5" font-weight="bold" fill="#9c9c9c">y<tspan font-size="4.8" dx="1.6" dy="-0.3" fill="#b0b0b0">6</tspan></text>
<text x="793.9" y="49.9" font-size="8.5" font-weight="bold" fill="#9c9c9c">y<tspan font-size="4.8" dx="1.6" dy="-0.3" fill="#b0b0b0">5</tspan></text>
<text x="813.9" y="49.9" font-size="8.5" font-weight="bold" fill="#9c9c9c">y<tspan font-size="4.8" dx="1.6" dy="-0.3" fill="#b0b0b0">4</tspan></text>
<text x="833.9" y="49.9" font-size="8.5" font-weight="bold" fill="#9c9c9c">y<tspan font-size="4.8" dx="1.6" dy="-0.3" fill="#b0b0b0">3</tspan></text>
<text x="853.9" y="49.9" font-size="8.5" font-weight="bold" fill="#9c9c9c">y<tspan font-size="4.8" dx="1.6" dy="-0.3" fill="#b0b0b0">2</tspan></text>
<text x="873.9" y="49.9" font-size="8.5" font-weight="bold" fill="#9c9c9c">y<tspan font-size="4.8" dx="1.6" dy="-0.3" fill="#b0b0b0">1</tspan></text>
</svg></body></html>
